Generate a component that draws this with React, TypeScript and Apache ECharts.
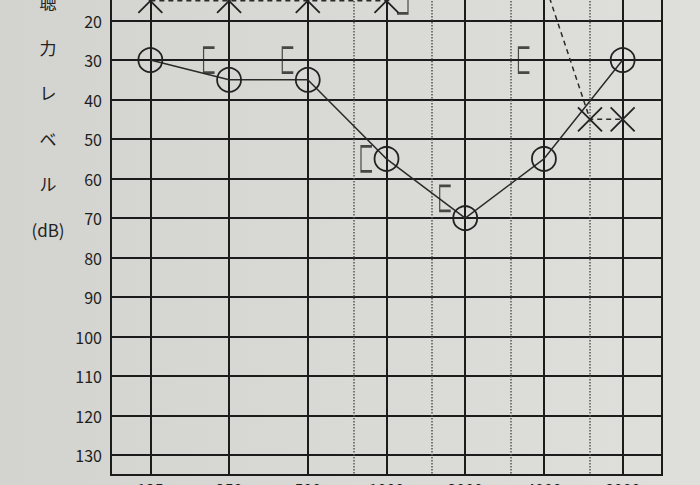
import React, { useEffect, useRef } from "react";
import * as echarts from "echarts";

// ---- data ----
const freqLabels = ["125", "250", "500", "1000", "2000", "4000", "8000"];
const mainFreqs = [125, 250, 500, 1000, 2000, 4000, 8000];
const midFreqs = [750, 1500, 3000, 6000];

const rightAirFreqs = [125, 250, 500, 1000, 2000, 4000, 8000];
const rightAirDb = [30, 35, 35, 55, 70, 55, 30];

const leftAirFreqs = [125, 250, 500, 1000, 2000, 4000, 6000, 8000];
const leftAirDb = [15, 15, 15, 15, 10, 10, 45, 45];

const rightBoneFreqs = [250, 500, 1000, 2000, 4000];
const rightBoneDb = [30, 30, 55, 65, 30];

const leftBoneFreqs = [1000];
const leftBoneDb = [15];

const titleChars = ["聴", "力", "レ", "ベ", "ル", "(dB)"];

const oct = (f: number) => Math.log2(f / 125);

// the page shows only part of a taller audiogram sheet
const HIDDEN_TOP = 100;

export default function App() {
  const ref = useRef<HTMLDivElement>(null);
  useEffect(() => {
    if (!ref.current) return;
    const chart = echarts.init(ref.current, undefined, { renderer: "svg" });
    const ink = "#1c1c1c";
    const font = "Noto Sans CJK JP";
    chart.setOption({
      animation: false,
      backgroundColor: new echarts.graphic.LinearGradient(0, 0, 1, 0, [
        { offset: 0, color: "#d3d3cf" },
        { offset: 1, color: "#dfdfdb" },
      ]),
      grid: {
        left: 111,
        right: 38,
        top: 2,
        bottom: 10,
        containLabel: false,
        outerBoundsMode: "none",
        show: true,
        borderColor: ink,
        borderWidth: 2,
        backgroundColor: "transparent",
      },
      xAxis: {
        type: "value",
        min: -0.5,
        max: 6.5,
        splitLine: { show: false },
        axisTick: { show: false },
        axisLine: { show: true, lineStyle: { color: ink, width: 2 } },
        axisLabel: {
          customValues: mainFreqs.map(oct),
          formatter: (v: number) => freqLabels[Math.round(v)] ?? "",
          color: "#1e1e1e",
          fontSize: 16,
          fontFamily: font,
          margin: 6,
        },
      },
      yAxis: {
        type: "value",
        inverse: true,
        min: -10,
        max: 135,
        interval: 10,
        axisLine: { show: true, lineStyle: { color: ink, width: 2 } },
        axisTick: { show: false },
        splitLine: { show: true, lineStyle: { color: ink, width: 2 } },
        axisLabel: {
          showMaxLabel: false,
          color: "#1e1e1e",
          fontSize: 16,
          fontFamily: font,
          margin: 9,
        },
      },
      graphic: titleChars.map((c, i) => ({
        type: "text",
        x: 48,
        y: HIDDEN_TOP + 1.5 + i * 45.5,
        style: {
          text: c,
          fill: "#222",
          font: `17px "${font}"`,
          align: "center",
          verticalAlign: "middle",
        },
      })),
      series: [
        {
          type: "line",
          data: [],
          z: 1,
          silent: true,
          markLine: {
            silent: true,
            symbol: "none",
            label: { show: false },
            animation: false,
            data: [
              ...mainFreqs.map((f) => ({
                xAxis: oct(f),
                lineStyle: { color: ink, width: 2, type: "solid" },
              })),
              ...midFreqs.map((f) => ({
                xAxis: oct(f),
                lineStyle: { color: "#555", width: 1.5, type: [1.5, 1.5] },
              })),
            ],
          },
        },
        {
          name: "右 気導",
          type: "line",
          z: 5,
          data: rightAirFreqs.map((f, i) => [oct(f), rightAirDb[i]]),
          symbol: "circle",
          symbolSize: 24,
          itemStyle: { color: "rgba(0,0,0,0)", borderColor: "#222", borderWidth: 1.8 },
          lineStyle: { color: "#2a2a2a", width: 1.5 },
        },
        {
          name: "左 気導",
          type: "line",
          z: 5,
          data: leftAirFreqs.map((f, i) => [oct(f), leftAirDb[i]]),
          symbol: "path://M0,0L20,20M20,0L0,20",
          symbolSize: 24,
          itemStyle: { color: "rgba(0,0,0,0)", borderColor: "#222", borderWidth: 1.8 },
          lineStyle: { color: "#2a2a2a", width: 1.5, type: [5, 4] },
        },
        {
          name: "右 骨導",
          type: "scatter",
          z: 5,
          data: rightBoneFreqs.map((f, i) => [oct(f), rightBoneDb[i]]),
          symbol: "path://M10,0L0,0L0,24L10,24",
          symbolSize: [11, 25],
          symbolOffset: [-20, 0],
          itemStyle: { color: "rgba(0,0,0,0)", borderColor: "#222", borderWidth: 1.8 },
        },
        {
          name: "左 骨導",
          type: "scatter",
          z: 5,
          data: leftBoneFreqs.map((f, i) => [oct(f), leftBoneDb[i]]),
          symbol: "path://M0,0L10,0L10,24L0,24",
          symbolSize: [11, 25],
          symbolOffset: [16, 0],
          itemStyle: { color: "rgba(0,0,0,0)", borderColor: "#222", borderWidth: 1.8 },
        },
      ],
    });
    return () => chart.dispose();
  }, []);
  return (
    <div
      ref={ref}
      style={{
        position: "fixed",
        left: 0,
        top: -HIDDEN_TOP,
        width: 700,
        height: 485 + HIDDEN_TOP,
      }}
    />
  );
}
